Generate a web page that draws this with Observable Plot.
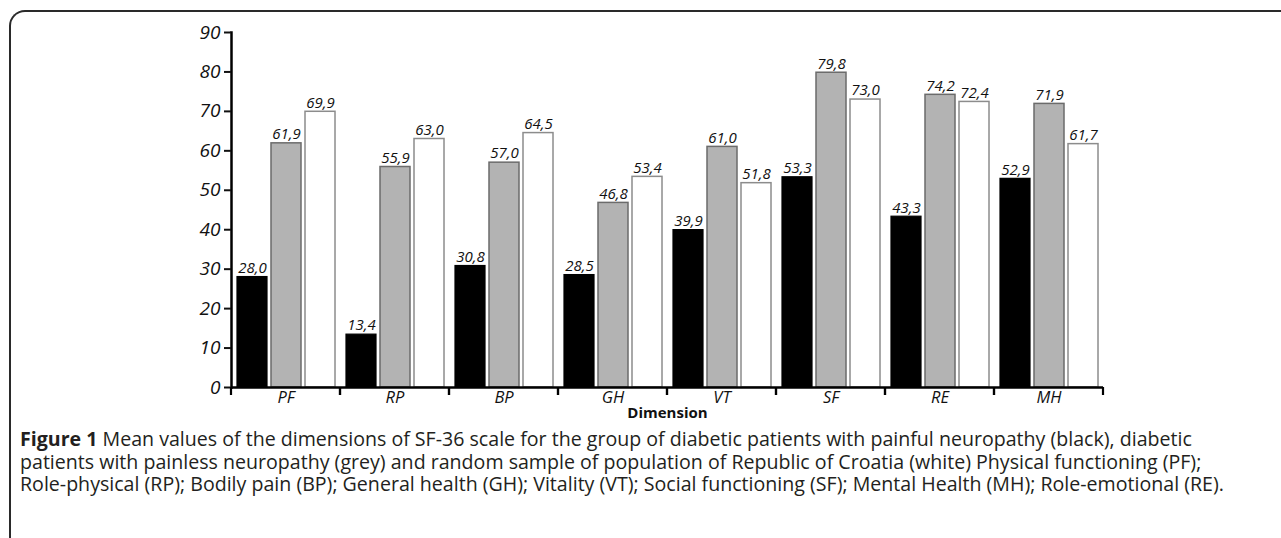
<!DOCTYPE html>
<html>
<head>
<meta charset="utf-8">
<script src="https://cdn.jsdelivr.net/npm/d3@7"></script>
<script src="https://cdn.jsdelivr.net/npm/@observablehq/plot@0.6"></script>
<style>
  html, body { margin: 0; padding: 0; background: #fff; width: 1281px; height: 538px; overflow: hidden; }
  #frame { position: absolute; left: 9px; top: 10px; width: 1400px; height: 600px; border-left: 2px solid #2a2a2a; border-top: 2px solid #2a2a2a; border-top-left-radius: 16px; box-sizing: border-box; }
  #chart { position: absolute; left: 0; top: 0; }
  #caption { position: absolute; left: 20px; top: 428px; width: 1260px; font-family: "Open Sans", sans-serif; font-size: 19.6px; line-height: 22.5px; color: #231f20; white-space: nowrap; }
  #caption b { font-weight: 700; }
</style>
</head>
<body>
<div id="frame"></div>
<div id="chart"></div>
<div id="caption"><b>Figure 1</b> Mean values of the dimensions of SF-36 scale for the group of diabetic patients with painful neuropathy (black), diabetic<br>patients with painless neuropathy (grey) and random sample of population of Republic of Croatia (white) Physical functioning (PF);<br>Role-physical (RP); Bodily pain (BP); General health (GH); Vitality (VT); Social functioning (SF); Mental Health (MH); Role-emotional (RE).</div>
<script>
const categories = ["PF", "RP", "BP", "GH", "VT", "SF", "RE", "MH"];
const groups = ["painful", "painless", "population"];
const painful = [28.0, 13.4, 30.8, 28.5, 39.9, 53.3, 43.3, 52.9];
const painless = [61.9, 55.9, 57.0, 46.8, 61.0, 79.8, 74.2, 71.9];
const population = [69.9, 63.0, 64.5, 53.4, 51.8, 73.0, 72.4, 61.7];
const yTicks = [0, 10, 20, 30, 40, 50, 60, 70, 80, 90];
const xLabel = "Dimension";

const series = {painful, painless, population};
const data = groups.flatMap(g => categories.map((c, i) => ({cat: c, group: g, value: series[g][i]})));
const byGroup = g => data.filter(d => d.group === g);
const fmt = v => v.toFixed(1).replace(".", ",");

// boundary ticks of each category band on the x axis
function bandTicks(index, scales, values, dimensions) {
  const y0 = scales.y(0);
  const g = d3.create("svg:g");
  for (const x of [dimensions.marginLeft, dimensions.width - dimensions.marginRight]) {
    g.append("line").attr("x1", x).attr("x2", x).attr("y1", y0).attr("y2", y0 + 8)
      .attr("stroke", "#000").attr("stroke-width", 2.2);
  }
  return g.node();
}

const H = 428;
const plot = Plot.plot({
  width: 1281,
  height: H,
  marginLeft: 231,
  marginRight: 178,
  marginTop: 32,
  marginBottom: H - 387,
  style: {fontFamily: "Open Sans, sans-serif", color: "#111", background: "transparent"},
  fx: {domain: categories, padding: 0},
  x: {domain: groups, paddingInner: 0.12, paddingOuter: 0.16, axis: null},
  y: {domain: [0, 90]},
  marks: [
    Plot.barY(byGroup("painful"), {fx: "cat", x: "group", y: "value", fill: "#000", stroke: "#000", strokeWidth: 1.2}),
    Plot.barY(byGroup("painless"), {fx: "cat", x: "group", y: "value", fill: "#b3b3b3", stroke: "#6b6b6b", strokeWidth: 1.5}),
    Plot.barY(byGroup("population"), {fx: "cat", x: "group", y: "value", fill: "#fff", stroke: "#8c8c8c", strokeWidth: 1.5}),
    Plot.text(data, {fx: "cat", x: "group", y: "value", text: d => fmt(d.value), dy: -9, fontSize: 15, fontStyle: "italic", fill: "#111"}),
    Plot.ruleY([0], {stroke: "#000", strokeWidth: 2.5}),
    Plot.frame({anchor: "left", facetAnchor: "left", stroke: "#000", strokeWidth: 2.5}),
    Plot.axisY({ticks: yTicks, tickSize: 7, tickPadding: 4, tickFormat: d => String(d), fontSize: 19, fontStyle: "italic", strokeWidth: 2, label: null}),
    Plot.axisFx({anchor: "bottom", tickSize: 0, tickPadding: 4, fontSize: 16.5, fontStyle: "italic", label: null}),
    Plot.axisFx({anchor: "bottom", ticks: [], label: xLabel, labelAnchor: "center", labelOffset: 30, fontSize: 15, fontWeight: "bold"}),
    Plot.ruleY([0], {render: bandTicks})
  ]
});
document.getElementById("chart").appendChild(plot);
</script>
</body>
</html>
